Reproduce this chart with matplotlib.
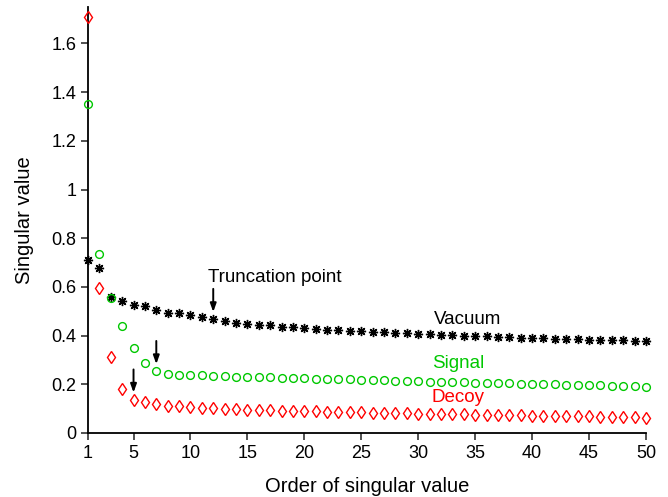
import numpy as np
import matplotlib
matplotlib.use("Agg")
import matplotlib.pyplot as plt

plt.rcParams['font.family'] = ['Liberation Sans', 'DejaVu Sans']

order = np.arange(1, 51)

vacuum = [0.710, 0.676, 0.560, 0.543, 0.527, 0.521, 0.505, 0.494, 0.491, 0.483,
          0.478, 0.467, 0.461, 0.453, 0.448, 0.445, 0.442, 0.437, 0.434, 0.431,
          0.426, 0.424, 0.422, 0.420, 0.418, 0.416, 0.414, 0.412, 0.410, 0.408,
          0.406, 0.404, 0.402, 0.400, 0.398, 0.397, 0.395, 0.394, 0.392, 0.390,
          0.389, 0.388, 0.387, 0.385, 0.384, 0.383, 0.382, 0.380, 0.379, 0.378]

signal = [1.351, 0.735, 0.556, 0.439, 0.350, 0.286, 0.253, 0.242, 0.238, 0.238,
          0.237, 0.236, 0.233, 0.232, 0.231, 0.230, 0.228, 0.227, 0.226, 0.224,
          0.223, 0.222, 0.221, 0.220, 0.219, 0.218, 0.216, 0.215, 0.213, 0.212,
          0.211, 0.210, 0.209, 0.208, 0.207, 0.206, 0.205, 0.204, 0.203, 0.202,
          0.201, 0.200, 0.199, 0.198, 0.197, 0.196, 0.195, 0.194, 0.192, 0.190]

decoy = [1.710, 0.597, 0.313, 0.179, 0.136, 0.129, 0.118, 0.112, 0.110, 0.107,
         0.104, 0.101, 0.100, 0.097, 0.094, 0.093, 0.093, 0.092, 0.090, 0.090,
         0.089, 0.088, 0.087, 0.086, 0.085, 0.084, 0.083, 0.082, 0.081, 0.080,
         0.079, 0.078, 0.077, 0.076, 0.075, 0.074, 0.073, 0.073, 0.072, 0.071,
         0.070, 0.070, 0.069, 0.068, 0.068, 0.067, 0.066, 0.065, 0.064, 0.063]

# truncation points (order index) for each series
trunc = {"vacuum": 12, "signal": 7, "decoy": 5}

xticks = [1, 5, 10, 15, 20, 25, 30, 35, 40, 45, 50]
yticks = [0, 0.2, 0.4, 0.6, 0.8, 1.0, 1.2, 1.4, 1.6]
ylabels = ["0", "0.2", "0.4", "0.6", "0.8", "1", "1.2", "1.4", "1.6"]

green = "#00C800"
red = "#FF0000"

fig = plt.figure(figsize=(6.68, 4.97), dpi=100)
ax = fig.add_axes([0.1317, 0.1288, 0.967 - 0.1317, 0.986 - 0.1288])

# asterisk-like star: thin 8-spoke asterisk over a small filled dot
ax.plot(order, vacuum, linestyle="none", marker=(8, 2, 0), markersize=6.6,
        markeredgewidth=1.0, color="black", clip_on=False, zorder=3)
ax.plot(order, vacuum, linestyle="none", marker="o", markersize=2.8,
        color="black", clip_on=False, zorder=3)
ax.plot(order, signal, linestyle="none", marker="o", markersize=5.6,
        markerfacecolor="none", markeredgecolor=green, markeredgewidth=1.0,
        clip_on=False, zorder=3)
ax.plot(order, decoy, linestyle="none", marker="d", markersize=6.6,
        markerfacecolor="none", markeredgecolor=red, markeredgewidth=1.0,
        clip_on=False, zorder=3)

arrow = dict(arrowstyle="-|>,head_length=0.5,head_width=0.18", color="black",
             lw=1.4, shrinkA=0, shrinkB=0)
for key, series in [("vacuum", vacuum), ("signal", signal), ("decoy", decoy)]:
    n = trunc[key]
    yv = series[n - 1]
    ax.annotate("", xy=(n, yv + 0.03), xytext=(n, yv + 0.125),
                arrowprops=arrow)

ax.text(11.5, 0.64, "Truncation point", fontsize=13.5, color="black",
        ha="left", va="center")
ax.text(34.3, 0.468, "Vacuum", fontsize=13.5, color="black", ha="center", va="center")
ax.text(33.5, 0.287, "Signal", fontsize=13.5, color=green, ha="center", va="center")
ax.text(33.5, 0.144, "Decoy", fontsize=13.5, color=red, ha="center", va="center")

ax.set_xlim(1, 50)
ax.set_ylim(0, 1.75)
ax.set_xticks(xticks)
ax.set_yticks(yticks)
ax.set_yticklabels(ylabels)
ax.tick_params(labelsize=13, length=5, width=1.2, direction="out", colors="#333333",
               labelcolor="black")
for s in ["top", "right"]:
    ax.spines[s].set_visible(False)
for s in ["left", "bottom"]:
    ax.spines[s].set_linewidth(1.3)

ax.set_xlabel("Order of singular value", fontsize=14.5, labelpad=11)
ax.set_ylabel("Singular value", fontsize=14.5, labelpad=12)

fig.savefig("out.png", dpi=100)
